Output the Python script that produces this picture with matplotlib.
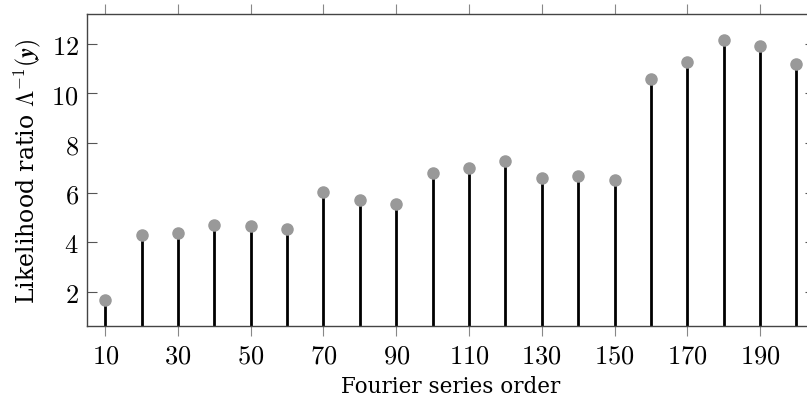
import matplotlib
matplotlib.use("Agg")
import matplotlib.pyplot as plt

orders = [10, 20, 30, 40, 50, 60, 70, 80, 90, 100, 110, 120, 130, 140, 150, 160, 170, 180, 190, 200]
ratios = [1.66, 4.30, 4.38, 4.67, 4.63, 4.51, 6.02, 5.68, 5.53, 6.80, 7.01, 7.26, 6.59, 6.66, 6.50, 10.58, 11.29, 12.16, 11.91, 11.19]
xticks = [10, 30, 50, 70, 90, 110, 130, 150, 170, 190]
yticks = [2, 4, 6, 8, 10, 12]

plt.rcParams['mathtext.fontset'] = 'cm'
plt.rcParams['font.family'] = ['DejaVu Serif']

W, H = 807, 402
fig = plt.figure(figsize=(W / 100, H / 100), dpi=100)
left, right, top, bottom = 87, 814.6, 15, 327
ax = fig.add_axes([left / W, 1 - bottom / H, (right - left) / W, (bottom - top) / H])

ax.vlines(orders, 0, ratios, colors='black', linewidth=2.0, zorder=2)
ax.plot(orders, ratios, 'o', color='#999999', markersize=8, zorder=3, clip_on=False)

ax.set_xlim(5, 205)
ax.set_ylim(0.61, 13.21)
ax.set_xticks(xticks)
ax.set_xticklabels([f'${t}$' for t in xticks], fontsize=19)
ax.set_yticks(yticks)
ax.set_yticklabels([f'${t}$' for t in yticks], fontsize=19)

ax.tick_params(axis='x', which='both', direction='out', length=7, width=0.8, color='#888888',
               top=True, bottom=True, labeltop=False, pad=5)
ax.tick_params(axis='y', which='both', direction='in', length=7, width=0.8, color='#555555',
               left=True, right=True, labelright=False, pad=6)
for s in ax.spines.values():
    s.set_color('#444444')
    s.set_linewidth(1.0)

ax.set_xlabel('Fourier series order', fontsize=15.5, labelpad=5)
ax.set_ylabel(r'Likelihood ratio $\Lambda^{-1}(\boldsymbol{y})$', fontsize=17, labelpad=6)

fig.savefig('out.png', dpi=100)
